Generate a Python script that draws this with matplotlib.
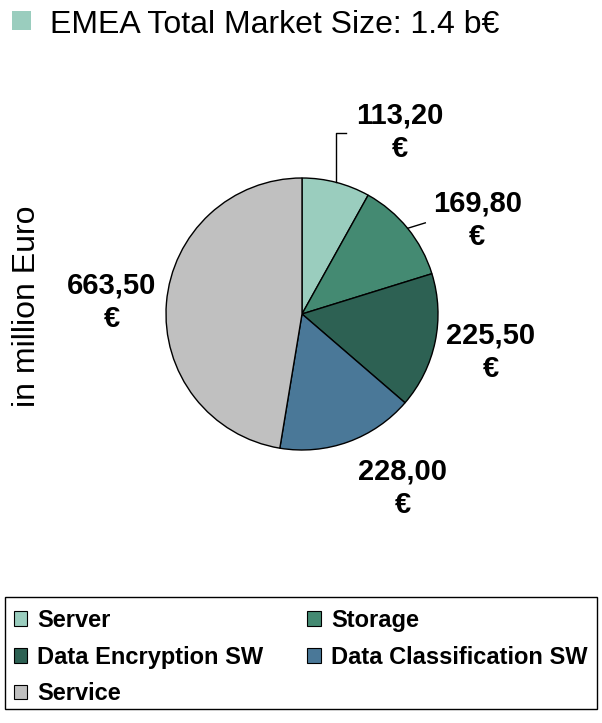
import numpy as np
import matplotlib
matplotlib.use("Agg")
import matplotlib.pyplot as plt
from matplotlib.patches import Patch, Rectangle

plt.rcParams['font.family'] = ['Liberation Sans', 'DejaVu Sans']

# ---- data ----
categories = ["Server", "Storage", "Data Encryption SW", "Data Classification SW", "Service"]
values = [113.20, 169.80, 225.50, 228.00, 663.50]
value_labels = ["113,20\n€", "169,80\n€", "225,50\n€", "228,00\n€", "663,50\n€"]
colors = ["#9ACDBE", "#448A72", "#2D6153", "#4A7898", "#C0C0C0"]
title = "EMEA Total Market Size: 1.4 b€"
ylabel = "in million Euro"

# ---- layout (label centres in pie-radius units) ----
label_pos = [(0.72, 1.34), (1.29, 0.69), (1.39, -0.28), (0.74, -1.28), (-1.40, 0.09)]

W, H = 602, 723
fig = plt.figure(figsize=(W / 100, H / 100), dpi=100)

# pie axes: centre at (302, 314) px from top, radius 136 px
cx, cy, R = 302, 314, 136
ax = fig.add_axes([0, 0, 1, 1])
wedges, _ = ax.pie(values, colors=colors, startangle=90, counterclock=False,
                   wedgeprops=dict(edgecolor="black", linewidth=1.0))
ax.set_xlim(-cx / R, (W - cx) / R)
ax.set_ylim(-(H - cy) / R, cy / R)
ax.set_aspect('auto')
ax.axis('off')

for (x, y), txt in zip(label_pos, value_labels):
    ax.text(x, y, txt, ha='center', va='center', fontsize=21, fontweight='bold',
            linespacing=1.25)

# leader lines
def mid_angle(i):
    w = wedges[i]
    return np.deg2rad((w.theta1 + w.theta2) / 2)

a0 = mid_angle(0)
sx, sy = np.cos(a0), np.sin(a0)
ax.plot([sx, sx, sx + 0.075], [sy, 1.33, 1.33], color='black', lw=1.0)
a1 = mid_angle(1)
sx, sy = np.cos(a1), np.sin(a1)
ax.plot([sx, sx + 0.13], [sy, sy + 0.04], color='black', lw=1.0)

# title with square marker
fig.patches.append(Rectangle((12 / W, 1 - 30 / H), 19 / W, 19 / H,
                             transform=fig.transFigure, facecolor=colors[0],
                             edgecolor='none'))
fig.text(50 / W, 1 - 33 / H, title, fontsize=23, ha='left', va='baseline')

# y label
fig.text(27 / W, 1 - 306 / H, ylabel, fontsize=23, rotation=90,
         ha='center', va='center')

# legend frame
fig.patches.append(Rectangle((5 / W, 1 - 709 / H), 592 / W, 112 / H,
                             transform=fig.transFigure, facecolor='white',
                             edgecolor='black', linewidth=1.0, zorder=0))

# legend (row-major order in 2 columns)
handles = [Patch(facecolor=c, edgecolor='black', linewidth=0.8) for c in colors]
order = [0, 2, 4, 1, 3]
leg = fig.legend([handles[i] for i in order], [categories[i] for i in order],
                 ncol=2, loc='upper left', mode='expand',
                 bbox_to_anchor=(13.5 / W, 1 - 609 / H, 574 / W, 0),
                 prop=dict(size=17, weight='bold'),
                 handlelength=0.58, handleheight=0.58, handletextpad=0.42,
                 borderpad=0, labelspacing=0.58, borderaxespad=0,
                 frameon=False)

fig.savefig("out.png", dpi=100)
